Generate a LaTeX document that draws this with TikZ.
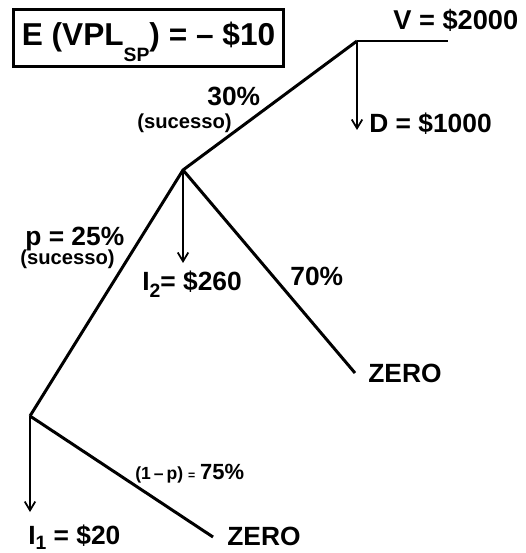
\documentclass[tikz,border=0pt]{standalone}
\usepackage{fontspec}
\setmainfont{Liberation Sans}
\usetikzlibrary{positioning,arrows.meta}
\newcommand{\baixo}[2]{\raisebox{-#1}{\fontsize{11}{11}\selectfont #2}}

\begin{document}
\begin{tikzpicture}[x=0.02cm,y=-0.02cm,
    ramo/.style={line width=1.7pt,line join=round},
    fluxo/.style={line width=1pt,-{Straight Barb[length=5pt,width=6pt]}},
    rotulo/.style={inner sep=0pt,anchor=base west,font=\fontsize{15}{18}\selectfont\bfseries},
    nota/.style={inner sep=0pt,anchor=base west,font=\fontsize{11.5}{13}\selectfont\bfseries}]
      \useasboundingbox (0,0) rectangle (525,553);

      % nos da arvore
      \coordinate (n1) at (30,416);
      \coordinate (n2) at (183,170);
      \coordinate (n3) at (357,41);
      \coordinate (fimV) at (448,41);
      \coordinate (fimD) at (357,130);
      \coordinate (fimI2) at (183,263);
      \coordinate (fimI1) at (30,512);
      \coordinate (fimZ2) at (355,373);
      \coordinate (fimZ1) at (213,537);

      \node[draw,line width=1.7pt,anchor=base,inner xsep=4.6pt,inner ysep=0pt,
            text height=20.6pt,text depth=11.6pt,font=\fontsize{18}{20}\selectfont\bfseries]
            (evpl) at (148.5,46) {E (VPL\baixo{9pt}{SP}) = -- \$10};

      \draw[ramo] (n1) -- (n2) -- (n3);
      \draw[ramo] (n2) -- (fimZ2);
      \draw[ramo] (n1) -- (fimZ1);
      \draw[line width=1pt] (n3) -- (fimV);

      \draw[fluxo] (n3) -- (fimD);
      \draw[fluxo] (n2) -- (fimI2);
      \draw[fluxo] (n1) -- (fimI1);

      \node[rotulo,font=\fontsize{15.5}{18}\selectfont\bfseries] (valV) at (393,30) {V = \$2000};
      \node[rotulo] (valD) at (369,133) {D = \$1000};
      \node[rotulo] (p30) at (207,106) {30\%};
      \node[nota] (suc2) at (137,129) {(sucesso)};
      \node[rotulo] (p25) at (25,246) {p = 25\%};
      \node[nota] (suc1) at (20,265) {(sucesso)};
      \node[rotulo] (inv2) at (142,290) {I\baixo{4pt}{2}= \$260};
      \node[rotulo] (p70) at (290,285) {70\%};
      \node[rotulo] (zero2) at (368,382) {ZERO};
      \node[rotulo] (inv1) at (28,544) {I\baixo{3pt}{1} = \$20};
      \node[rotulo] (zero1) at (227,545) {ZERO};
      \node[nota] (p75) at (135,479)
            {\fontsize{10}{12}\selectfont (1\,--\,p) {\fontsize{7}{8}\selectfont =} {\fontsize{12.5}{14}\selectfont 75\%}};

    \end{tikzpicture}
\end{document}
